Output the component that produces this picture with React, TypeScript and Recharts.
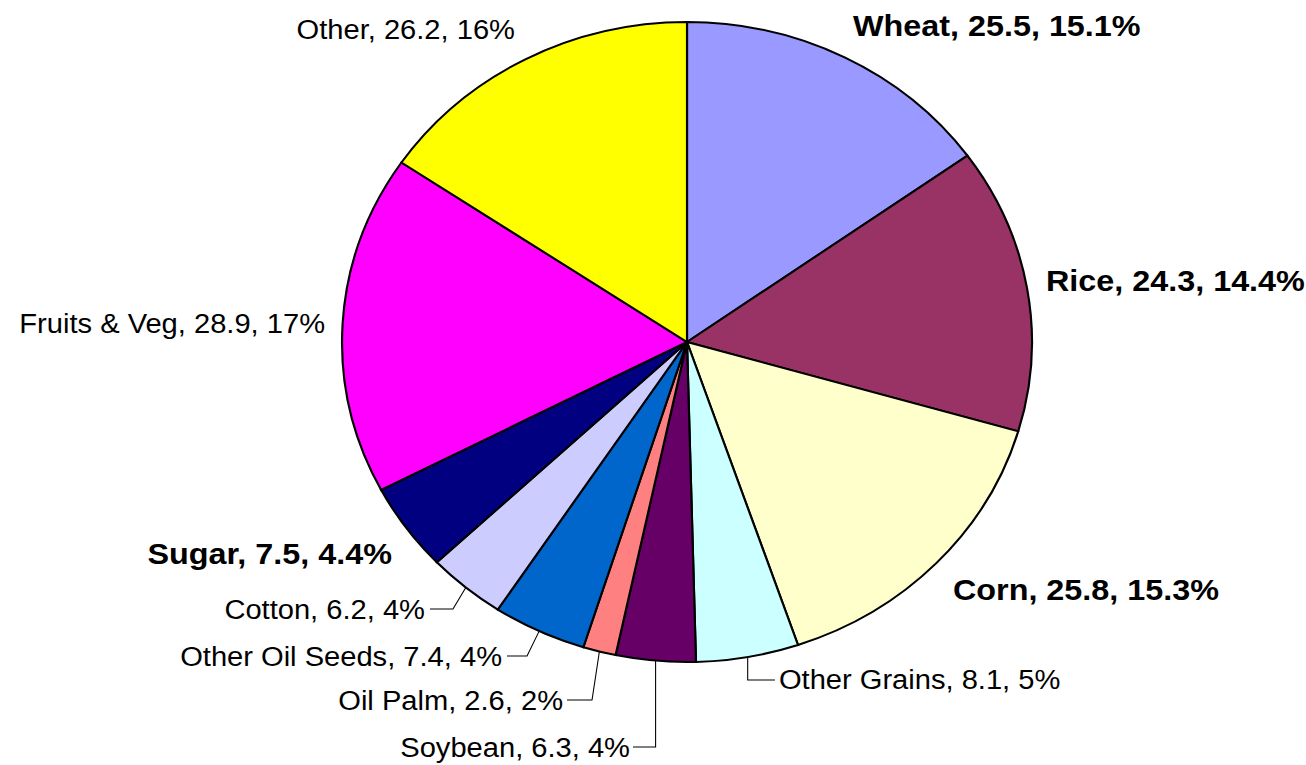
import React from 'react';
import { PieChart, Pie, Cell } from 'recharts';

const categories = ['Wheat', 'Rice', 'Corn', 'Other Grains', 'Soybean', 'Oil Palm', 'Other Oil Seeds', 'Cotton', 'Sugar', 'Fruits & Veg', 'Other'];
const values = [25.5, 24.3, 25.8, 8.1, 6.3, 2.6, 7.4, 6.2, 7.5, 28.9, 26.2];
const colors = ['#9999FF', '#993366', '#FFFFCC', '#CCFFFF', '#660066', '#FF8080', '#0066CC', '#CCCCFF', '#000080', '#FF00FF', '#FFFF00'];
const highlighted = ['Wheat', 'Rice', 'Corn', 'Sugar'];

const data = categories.map((name, i) => ({ name, value: values[i] }));

// label placement relative to pie centre (unscaled space): text anchor x, baseline y, optional leader line bend
type LabelPos = { dx: number; dy: number; anchor: 'start' | 'end'; bendX?: number; lineEndX?: number; lineY?: number; vertical?: boolean };
const labelLayout: Record<string, LabelPos> = {
  'Wheat': { dx: 154, dy: -306, anchor: 'start' },
  'Rice': { dx: 333, dy: -51, anchor: 'start' },
  'Corn': { dx: 246.7, dy: 258, anchor: 'start' },
  'Other Grains': { dx: 85.3, dy: 347, anchor: 'start', bendX: 60.3, lineEndX: 81.6, lineY: 338, vertical: true },
  'Soybean': { dx: -52.9, dy: 415, anchor: 'end', bendX: -28.5, lineEndX: -50.1, lineY: 405, vertical: true },
  'Oil Palm': { dx: -115, dy: 368, anchor: 'end', bendX: -88.1, lineEndX: -111.3, lineY: 358 },
  'Other Oil Seeds': { dx: -171.6, dy: 324, anchor: 'end', bendX: -148.4, lineEndX: -167, lineY: 314 },
  'Cotton': { dx: -243.1, dy: 277, anchor: 'end', bendX: -217.1, lineEndX: -238.4, lineY: 267 },
  'Sugar': { dx: -273.7, dy: 222, anchor: 'end' },
  'Fruits & Veg': { dx: -335.8, dy: -9, anchor: 'end' },
  'Other': { dx: -159.6, dy: -303, anchor: 'end' },
};

const SCALE_X = 1.078;
const FONT = "'Liberation Sans', Arial, Helvetica, sans-serif";
const RAD = Math.PI / 180;

const renderLabel = (props: any) => {
  const { cx, cy, midAngle, outerRadius, name, value, percent } = props;
  const pos = labelLayout[name];
  if (!pos) return null;
  const bold = highlighted.includes(name);
  const pct = bold ? (percent * 100).toFixed(1) : String(Math.round(percent * 100));
  const text = `${name}, ${value}, ${pct}%`;
  const tx = cx + pos.dx;
  const ty = cy + pos.dy;
  let line = null;
  if (pos.bendX !== undefined && pos.lineEndX !== undefined && pos.lineY !== undefined) {
    const ex = cx + outerRadius * Math.cos(-midAngle * RAD);
    const ey = cy + outerRadius * Math.sin(-midAngle * RAD);
    const bx = pos.vertical ? ex : cx + pos.bendX;
    const pts = `${ex},${ey} ${bx},${cy + pos.lineY} ${cx + pos.lineEndX},${cy + pos.lineY}`;
    line = <polyline points={pts} fill="none" stroke="#000" strokeWidth={1} />;
  }
  return (
    <g>
      {line}
      <text
        x={tx}
        y={ty}
        textAnchor={pos.anchor}
        fontFamily={FONT}
        fontSize={bold ? 30 : 27}
        fontWeight={bold ? 'bold' : 'normal'}
        fill="#000"
      >
        {text}
      </text>
    </g>
  );
};

export default function App() {
  return (
    <div
      style={{
        position: 'absolute',
        left: 0,
        top: 0,
        width: 1212,
        height: 765,
        background: '#fff',
        transform: `scaleX(${SCALE_X})`,
        transformOrigin: '0 0',
      }}
    >
      <PieChart width={1212} height={765} margin={{ top: 0, right: 0, bottom: 0, left: 0 }}>
        <Pie
          data={data}
          dataKey="value"
          nameKey="name"
          cx={637.3}
          cy={342}
          outerRadius={320}
          startAngle={90}
          endAngle={-270}
          stroke="#000"
          strokeWidth={2}
          label={renderLabel}
          labelLine={false}
          isAnimationActive={false}
        >
          {data.map((d, i) => (
            <Cell key={d.name} fill={colors[i]} stroke="#000" strokeWidth={2} />
          ))}
        </Pie>
      </PieChart>
    </div>
  );
}
